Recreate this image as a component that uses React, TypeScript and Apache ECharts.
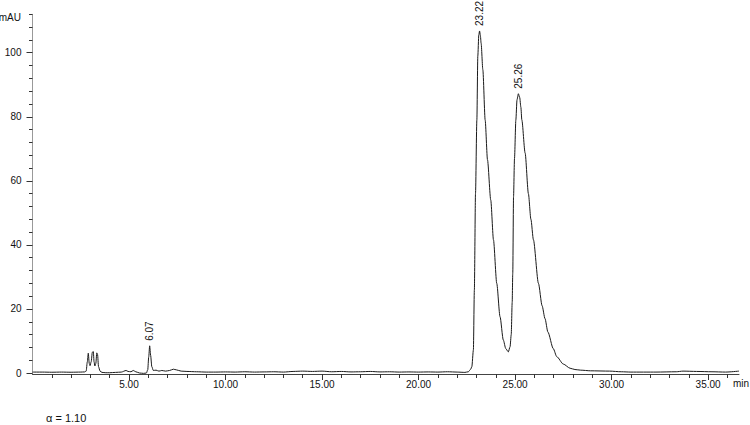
import React, { useEffect, useRef } from "react";
import * as echarts from "echarts";

// Retention time (min)
const times: number[] = [
  0.0, 0.5, 1.0, 1.5, 2.0, 2.5, 2.7, 2.78, 2.84, 2.89, 2.94, 2.98, 3.04, 3.1, 3.15, 3.19, 3.23, 3.28, 3.33, 3.37,
  3.42, 3.5, 3.6, 3.8, 4.0, 4.3, 4.6, 4.85, 4.95, 5.1, 5.22, 5.35, 5.55, 5.75, 5.9, 5.97, 6.02, 6.07, 6.12, 6.18,
  6.26, 6.4, 6.55, 6.7, 6.9, 7.1, 7.3, 7.45, 7.7, 8.0, 8.5, 9.0, 9.5, 10.0, 10.5, 11.0, 11.5, 12.0, 12.5, 13.0,
  13.5, 14.0, 14.5, 15.0, 15.5, 16.0, 16.5, 17.0, 17.5, 18.0, 18.5, 19.0, 19.5, 20.0, 20.5, 21.0, 21.5, 22.0, 22.4, 22.58,
  22.7, 22.76, 22.84, 22.89, 22.95, 23.02, 23.07, 23.12, 23.16, 23.2, 23.24, 23.33, 23.45, 23.57, 23.74, 23.88, 24.05, 24.22, 24.39, 24.52,
  24.65, 24.74, 24.8, 24.85, 24.88, 24.92, 24.97, 25.04, 25.1, 25.17, 25.24, 25.3, 25.35, 25.52, 25.69, 25.82, 25.95, 26.21, 26.4, 26.55,
  26.7, 26.98, 27.16, 27.5, 27.85, 28.1, 28.4, 28.9, 29.9, 30.5, 31.0, 32.3, 33.35, 33.7, 34.4, 35.2, 35.9, 36.6,
];

// Absorbance (mAU)
const absorbance: number[] = [
  0.3, 0.3, 0.25, 0.3, 0.25, 0.3, 0.35, 0.6, 3.5, 6.2, 3.0, 2.3, 3.5, 6.5, 6.7, 3.5, 2.2, 3.0, 6.3, 5.8,
  2.0, 0.6, 0.2, 0.1, 0.1, 0.2, 0.3, 0.8, 0.5, 0.4, 0.8, 0.4, 0.0, -0.1, 0.0, 1.0, 5.0, 8.5, 5.5, 2.0,
  0.8, 0.9, 0.6, 0.8, 0.6, 0.8, 1.2, 1.0, 0.6, 0.5, 0.4, 0.3, 0.3, 0.35, 0.3, 0.4, 0.3, 0.35, 0.4, 0.3,
  0.5, 0.6, 0.5, 0.6, 0.4, 0.5, 0.35, 0.4, 0.5, 0.35, 0.4, 0.3, 0.35, 0.3, 0.35, 0.3, 0.4, 0.3, 0.2, 0.4,
  1.2, 2.0, 7.2, 25.9, 56, 79, 99, 105.5, 106.8, 105.5, 103, 94.7, 79, 66.6, 54, 41.6, 28, 17.6, 10.3, 7.6,
  6.6, 8.2, 12, 22, 31.2, 55, 67, 79, 85.3, 87.2, 86, 83, 79, 68.7, 56, 48, 41.6, 28, 21, 17,
  12.8, 7.6, 5.1, 2.8, 1.5, 1.1, 0.9, 0.7, 0.6, 0.4, 0.3, 0.3, 0.4, 0.6, 0.5, 0.4, 0.3, 0.6,
];

const peakLabels: string[] = ["6.07", "23.22", "25.26"];

const xMajorTicks: number[] = [5, 10, 15, 20, 25, 30, 35];
const xMinorTicks: number[] = [
  1, 2, 3, 4, 6, 7, 8, 9, 11, 12, 13, 14, 16, 17, 18, 19, 21, 22, 23, 24, 26, 27, 28, 29, 31, 32, 33, 34, 36,
];
const yMajorTicks: number[] = [0, 20, 40, 60, 80, 100];
const yMinorTicks: number[] = [
  4, 8, 12, 16, 24, 28, 32, 36, 44, 48, 52, 56, 64, 68, 72, 76, 84, 88, 92, 96, 104, 108, 112,
];

const FONT = "Liberation Sans, Arial, Helvetica, sans-serif";

export default function App() {
  const ref = useRef<HTMLDivElement>(null);

  useEffect(() => {
    document.body.style.margin = "0";
    if (!ref.current) return;
    const chart = echarts.init(ref.current, undefined, { renderer: "svg" });

    const data = times.map((t, i) => [t, absorbance[i]]);

    const peakPoints = peakLabels.map((lab) => {
      const rt = parseFloat(lab);
      let best = -1;
      for (let i = 0; i < times.length; i++) {
        if (Math.abs(times[i] - rt) < 0.35 && (best < 0 || absorbance[i] > absorbance[best])) best = i;
      }
      return { name: lab, coord: [times[best], absorbance[best]] };
    });

    const xCommon = {
      type: "value",
      min: 0,
      max: 36.6,
      position: "bottom",
      splitLine: { show: false },
    };
    const yCommon = {
      type: "value",
      min: -0.3,
      max: 112,
      position: "left",
      splitLine: { show: false },
    };

    const option: any = {
      animation: false,
      grid: { left: 32.5, right: 11, top: 14.3, bottom: 51, containLabel: false },
      xAxis: [
        {
          ...xCommon,
          axisLine: { show: true, onZero: false, lineStyle: { color: "#444", width: 1 } },
          axisTick: { show: true, customValues: xMajorTicks, length: 6, lineStyle: { color: "#333", width: 1 } },
          axisLabel: {
            show: true,
            customValues: xMajorTicks,
            formatter: (v: number) => v.toFixed(2),
            margin: 5,
            fontSize: 10,
            color: "#111",
            fontFamily: FONT,
          },
        },
        {
          ...xCommon,
          axisLine: { show: false, onZero: false },
          axisTick: { show: true, customValues: xMinorTicks, length: 4, lineStyle: { color: "#333", width: 1 } },
          axisLabel: { show: false },
        },
      ],
      yAxis: [
        {
          ...yCommon,
          axisLine: { show: true, onZero: false, lineStyle: { color: "#999", width: 1 } },
          axisTick: { show: true, customValues: yMajorTicks, length: 6, lineStyle: { color: "#333", width: 1 } },
          axisLabel: {
            show: true,
            customValues: yMajorTicks,
            margin: 11,
            fontSize: 10,
            color: "#111",
            fontFamily: FONT,
          },
        },
        {
          ...yCommon,
          axisLine: { show: false, onZero: false },
          axisTick: { show: true, customValues: yMinorTicks, length: 3.5, lineStyle: { color: "#333", width: 1 } },
          axisLabel: { show: false },
        },
      ],
      series: [
        {
          type: "line",
          xAxisIndex: 0,
          yAxisIndex: 0,
          data,
          showSymbol: false,
          symbol: "none",
          smooth: 0.25,
          smoothMonotone: "x",
          lineStyle: { color: "#1a1a1a", width: 1 },
          markPoint: {
            symbol: "circle",
            symbolSize: 0,
            silent: true,
            label: {
              show: true,
              rotate: 90,
              position: "top",
              distance: 5,
              align: "left",
              verticalAlign: "middle",
              formatter: (p: any) => p.name,
              fontSize: 10,
              color: "#111",
              fontFamily: FONT,
            },
            data: peakPoints,
          },
        },
      ],
      graphic: [
        {
          type: "text",
          x: 21,
          y: 17,
          style: { text: "mAU", fill: "#111", font: `10px ${FONT}`, textAlign: "right", textVerticalAlign: "middle" },
        },
        {
          type: "text",
          x: 733,
          y: 383,
          style: { text: "min", fill: "#111", font: `10px ${FONT}`, textAlign: "left", textVerticalAlign: "middle" },
        },
        {
          type: "text",
          x: 46,
          y: 418,
          style: { text: "α = 1.10", fill: "#111", font: `11px ${FONT}`, textAlign: "left", textVerticalAlign: "middle" },
        },
      ],
    };

    chart.setOption(option);
    return () => chart.dispose();
  }, []);

  return <div ref={ref} style={{ width: 750, height: 425 }} />;
}
